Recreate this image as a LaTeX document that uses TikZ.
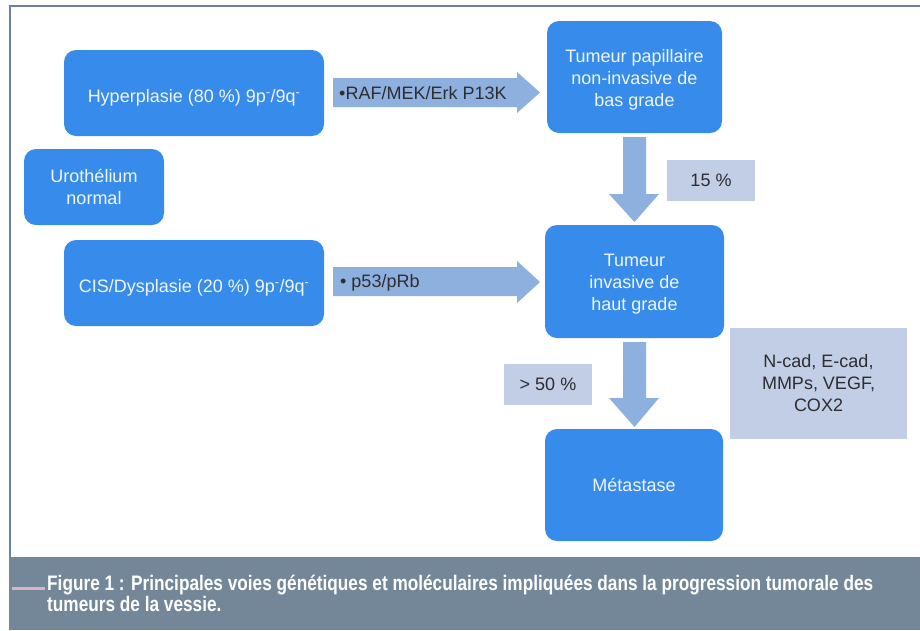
\documentclass[tikz,border=0pt]{standalone}
\usepackage{fontspec}
\setmainfont{Liberation Sans}
\usepackage{graphicx}
\definecolor{boxblue}{RGB}{55,140,235}
\definecolor{arrowblue}{RGB}{142,176,222}
\definecolor{labelblue}{RGB}{193,206,229}
\definecolor{capband}{RGB}{116,135,153}
\definecolor{frameline}{RGB}{110,128,155}
\definecolor{pinkline}{RGB}{217,181,195}
\definecolor{boxtext}{RGB}{240,245,255}
\definecolor{labeltext}{RGB}{45,45,50}
\newsavebox\capboxA
\newsavebox\capboxB
\begin{document}
\sbox\capboxA{\color{white}\bfseries\fontsize{21}{21}\selectfont Figure 1 : Principales voies génétiques et moléculaires impliquées dans la progression tumorale des}%
\sbox\capboxB{\color{white}\bfseries\fontsize{21}{21}\selectfont tumeurs de la vessie.}%
\pgfmathsetmacro\capsc{826/\the\wd\capboxA}%
\begin{tikzpicture}[x=1pt,y=-1pt,
  stagebox/.style={fill=boxblue, draw=none, rounded corners=12pt, align=center,
    text=boxtext, font=\fontsize{18}{22}\selectfont, inner sep=0pt},
  lowtext/.style={text height=23pt, text depth=4pt},
  labelbox/.style={fill=labelblue, draw=none, align=center, text=labeltext,
    font=\fontsize{18}{22}\selectfont, inner sep=0pt},
  arrowtext/.style={anchor=west, text=labeltext, font=\fontsize{18}{22}\selectfont, inner sep=0pt},
  blockarrow/.style={fill=arrowblue, draw=none}
]
\useasboundingbox (0,0) rectangle (920,630);
\fill[white] (0,0) rectangle (920,630);
% frame
\draw[frameline, line width=1.5pt] (10,557) -- (10,6) -- (920,6);
% caption band
\fill[capband] (9,557) rectangle (920,630);
\draw[pinkline, line width=3pt] (12,588) -- (45,588);
\node[anchor=base west, inner sep=0pt] (cap1) at (47,590) {\scalebox{\capsc}[1]{\usebox\capboxA}};
\node[anchor=base west, inner sep=0pt] (cap2) at (47,611) {\scalebox{\capsc}[1]{\usebox\capboxB}};

% stage boxes
\node[stagebox, lowtext, minimum width=260pt, minimum height=86pt] (hyp) at (194,93) {Hyperplasie (80 \%) 9p\textsuperscript{-}/9q\textsuperscript{-}};
\node[stagebox, minimum width=140pt, minimum height=76pt] (uro) at (94,187) {Urothélium\\normal};
\node[stagebox, lowtext, minimum width=260pt, minimum height=86pt] (cis) at (194,283) {CIS/Dysplasie (20 \%) 9p\textsuperscript{-}/9q\textsuperscript{-}};
\node[stagebox, minimum width=175pt, minimum height=112pt] (pap) at (634.5,77) {\rule{0pt}{18pt}Tumeur papillaire\\non-invasive de\\bas grade};
\node[stagebox, minimum width=179pt, minimum height=113pt] (inv) at (634.5,281.5) {\rule{0pt}{18pt}Tumeur\\invasive de\\haut grade};
\node[stagebox, minimum width=178pt, minimum height=112pt] (met) at (634,485) {Métastase};

% label boxes
\node[labelbox, minimum width=88pt, minimum height=41pt] (l15) at (711,180.5) {15 \%};
\node[labelbox, minimum width=88pt, minimum height=41pt] (l50) at (548,384.5) {> 50 \%};
\node[labelbox, minimum width=177pt, minimum height=111pt] (lcad) at (818.5,383.5) {N-cad, E-cad,\\MMPs, VEGF,\\COX2};

% block arrows right
\fill[blockarrow] (333,78) -- (517,78) -- (517,72) -- (540,92.5) -- (517,113) -- (517,107) -- (333,107) -- cycle;
\fill[blockarrow] (333,267) -- (517,267) -- (517,261) -- (540,282) -- (517,303) -- (517,296) -- (333,296) -- cycle;
\node[arrowtext] (t1) at (339,93.5) {•RAF/MEK/Erk P13K};
\node[arrowtext] (t2) at (340,283) {• p53/pRb};

% block arrows down
\fill[blockarrow] (623,137) -- (646,137) -- (646,194) -- (659,194) -- (634.5,222) -- (609,194) -- (623,194) -- cycle;
\fill[blockarrow] (623,342) -- (646,342) -- (646,398) -- (659,398) -- (634.5,427) -- (609,398) -- (623,398) -- cycle;
\end{tikzpicture}
\end{document}
